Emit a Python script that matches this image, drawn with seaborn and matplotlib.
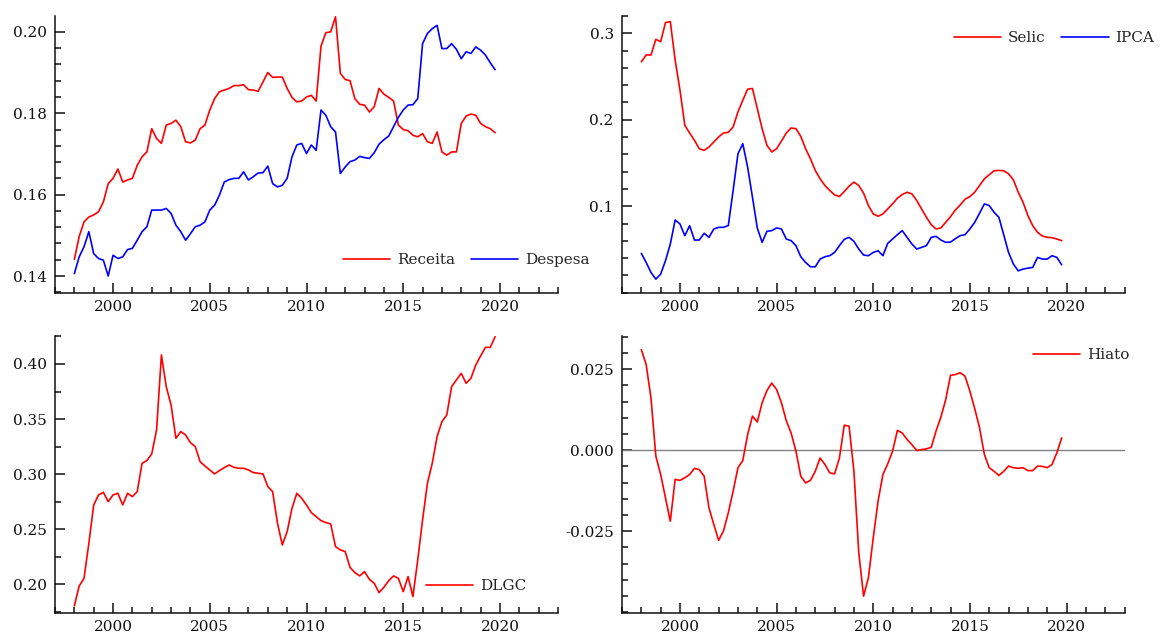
import numpy as np
import pandas as pd
import matplotlib
matplotlib.use("Agg")
import matplotlib.pyplot as plt
import seaborn as sns
from matplotlib.ticker import MultipleLocator, FixedLocator, FormatStrFormatter

# Quarterly series, 1998Q1 - 2019Q4
anos = 1998 + np.arange(88) / 4

receita = [
    0.1441, 0.1497, 0.1533, 0.1545, 0.1550, 0.1558, 0.1582, 0.1627,
    0.1640, 0.1663, 0.1631, 0.1636, 0.1640, 0.1672, 0.1693, 0.1705,
    0.1762, 0.1738, 0.1726, 0.1771, 0.1775, 0.1783, 0.1767, 0.1730,
    0.1727, 0.1734, 0.1762, 0.1771, 0.1808, 0.1836, 0.1853, 0.1857,
    0.1861, 0.1868, 0.1868, 0.1870, 0.1858, 0.1857, 0.1854, 0.1877,
    0.1900, 0.1888, 0.1889, 0.1889, 0.1861, 0.1839, 0.1828, 0.1830,
    0.1840, 0.1844, 0.1830, 0.1965, 0.1998, 0.2000, 0.2037, 0.1898,
    0.1883, 0.1880, 0.1836, 0.1822, 0.1820, 0.1803, 0.1816, 0.1861,
    0.1847, 0.1839, 0.1830, 0.1771, 0.1760, 0.1757, 0.1746, 0.1742,
    0.1750, 0.1730, 0.1726, 0.1754, 0.1705, 0.1697, 0.1705, 0.1705,
    0.1775, 0.1793, 0.1798, 0.1795, 0.1775, 0.1767, 0.1762, 0.1752,
]
despesa = [
    0.1406, 0.1447, 0.1472, 0.1509, 0.1455, 0.1443, 0.1439, 0.1400,
    0.1451, 0.1443, 0.1447, 0.1465, 0.1468, 0.1488, 0.1509, 0.1521,
    0.1562, 0.1562, 0.1562, 0.1566, 0.1554, 0.1525, 0.1509, 0.1488,
    0.1504, 0.1521, 0.1525, 0.1533, 0.1562, 0.1574, 0.1599, 0.1631,
    0.1637, 0.1640, 0.1640, 0.1656, 0.1636, 0.1644, 0.1653, 0.1654,
    0.1670, 0.1627, 0.1619, 0.1623, 0.1640, 0.1693, 0.1722, 0.1726,
    0.1701, 0.1722, 0.1709, 0.1808, 0.1795, 0.1767, 0.1754, 0.1652,
    0.1668, 0.1681, 0.1685, 0.1694, 0.1691, 0.1689, 0.1703, 0.1724,
    0.1735, 0.1744, 0.1767, 0.1790, 0.1808, 0.1820, 0.1821, 0.1836,
    0.1971, 0.1996, 0.2008, 0.2016, 0.1959, 0.1959, 0.1971, 0.1957,
    0.1934, 0.1951, 0.1947, 0.1963, 0.1955, 0.1943, 0.1924, 0.1907,
]
selic = [
    0.2670, 0.2749, 0.2749, 0.2930, 0.2903, 0.3124, 0.3135, 0.2690,
    0.2342, 0.1936, 0.1847, 0.1762, 0.1665, 0.1646, 0.1685, 0.1743,
    0.1801, 0.1847, 0.1855, 0.1917, 0.2091, 0.2226, 0.2354, 0.2362,
    0.2130, 0.1897, 0.1704, 0.1627, 0.1665, 0.1754, 0.1847, 0.1905,
    0.1897, 0.1808, 0.1665, 0.1549, 0.1414, 0.1317, 0.1240, 0.1182,
    0.1132, 0.1112, 0.1170, 0.1232, 0.1279, 0.1240, 0.1151, 0.1008,
    0.0911, 0.0884, 0.0911, 0.0969, 0.1027, 0.1093, 0.1135, 0.1162,
    0.1143, 0.1066, 0.0969, 0.0872, 0.0787, 0.0737, 0.0749, 0.0814,
    0.0880, 0.0957, 0.1015, 0.1081, 0.1112, 0.1162, 0.1240, 0.1317,
    0.1364, 0.1410, 0.1414, 0.1410, 0.1375, 0.1306, 0.1162, 0.1046,
    0.0892, 0.0776, 0.0698, 0.0656, 0.0640, 0.0636, 0.0621, 0.0602,
]
ipca = [
    0.0455, 0.0350, 0.0234, 0.0157, 0.0215, 0.0370, 0.0563, 0.0841,
    0.0795, 0.0659, 0.0776, 0.0609, 0.0609, 0.0687, 0.0640, 0.0737,
    0.0756, 0.0756, 0.0776, 0.1182, 0.1607, 0.1723, 0.1453, 0.1104,
    0.0749, 0.0582, 0.0710, 0.0718, 0.0749, 0.0737, 0.0621, 0.0602,
    0.0544, 0.0416, 0.0350, 0.0300, 0.0300, 0.0389, 0.0416, 0.0428,
    0.0466, 0.0544, 0.0617, 0.0640, 0.0594, 0.0505, 0.0435, 0.0428,
    0.0466, 0.0485, 0.0428, 0.0571, 0.0621, 0.0671, 0.0718, 0.0640,
    0.0563, 0.0505, 0.0524, 0.0544, 0.0640, 0.0652, 0.0609, 0.0582,
    0.0586, 0.0625, 0.0660, 0.0671, 0.0737, 0.0814, 0.0919, 0.1027,
    0.1008, 0.0930, 0.0872, 0.0671, 0.0466, 0.0331, 0.0253, 0.0273,
    0.0284, 0.0292, 0.0408, 0.0389, 0.0389, 0.0428, 0.0408, 0.0323,
]
dlgc = [
    0.1803, 0.1985, 0.2054, 0.2372, 0.2720, 0.2811, 0.2835, 0.2750,
    0.2811, 0.2826, 0.2720, 0.2826, 0.2796, 0.2841, 0.3098, 0.3123,
    0.3183, 0.3401, 0.4082, 0.3794, 0.3628, 0.3325, 0.3386, 0.3356,
    0.3286, 0.3250, 0.3113, 0.3074, 0.3038, 0.3002, 0.3032, 0.3059,
    0.3083, 0.3062, 0.3053, 0.3053, 0.3038, 0.3014, 0.3008, 0.3002,
    0.2887, 0.2841, 0.2554, 0.2357, 0.2478, 0.2690, 0.2826, 0.2781,
    0.2720, 0.2651, 0.2614, 0.2578, 0.2560, 0.2548, 0.2342, 0.2312,
    0.2297, 0.2154, 0.2106, 0.2076, 0.2115, 0.2045, 0.2009, 0.1924,
    0.1973, 0.2033, 0.2076, 0.2054, 0.1933, 0.2070, 0.1888, 0.2221,
    0.2584, 0.2917, 0.3098, 0.3341, 0.3477, 0.3537, 0.3794, 0.3855,
    0.3915, 0.3825, 0.3870, 0.3991, 0.4073, 0.4151, 0.4151, 0.4248,
]
hiato = [
    0.0310, 0.0264, 0.0161, -0.0018, -0.0075, -0.0147, -0.0219, -0.0090,
    -0.0093, -0.0085, -0.0075, -0.0056, -0.0060, -0.0080, -0.0178, -0.0229,
    -0.0278, -0.0249, -0.0193, -0.0126, -0.0054, -0.0032, 0.0048, 0.0105,
    0.0087, 0.0146, 0.0184, 0.0207, 0.0187, 0.0146, 0.0091, 0.0053,
    -0.0003, -0.0080, -0.0101, -0.0093, -0.0065, -0.0024, -0.0044, -0.0070,
    -0.0073, -0.0024, 0.0077, 0.0074, -0.0065, -0.0316, -0.0450, -0.0393,
    -0.0270, -0.0157, -0.0075, -0.0042, -0.0003, 0.0061, 0.0053, 0.0033,
    0.0017, -0.0001, 0.0002, 0.0004, 0.0009, 0.0059, 0.0102, 0.0156,
    0.0231, 0.0233, 0.0239, 0.0228, 0.0182, 0.0128, 0.0069, -0.0013,
    -0.0054, -0.0065, -0.0078, -0.0065, -0.0049, -0.0054, -0.0056, -0.0054,
    -0.0063, -0.0063, -0.0049, -0.0050, -0.0054, -0.0044, -0.0008, 0.0038,
]

df = pd.DataFrame({
    "ano": anos, "Receita": receita, "Despesa": despesa, "Selic": selic,
    "IPCA": ipca, "DLGC": dlgc, "Hiato": hiato,
})

sns.set_style("ticks")
plt.rcParams.update({
    "font.family": ["DejaVu Serif"],
    "font.size": 11,
    "axes.linewidth": 1.1,
    "axes.edgecolor": "#111111",
})

W, H = 1165, 635
fig = plt.figure(figsize=(W / 100, H / 100), dpi=100)


def frame(left, top, right, bottom):
    return [left / W, 1 - bottom / H, (right - left) / W, (bottom - top) / H]


ax1 = fig.add_axes(frame(55, 16, 558, 292.7))
ax2 = fig.add_axes(frame(622, 16, 1124.5, 292.7))
ax3 = fig.add_axes(frame(55, 336, 558, 612.7))
ax4 = fig.add_axes(frame(622, 336, 1124.5, 612.7))

RED, BLUE = "#ff0000", "#0000ff"
LW = 1.2


def serie(ax, col, color):
    sns.lineplot(data=df, x="ano", y=col, ax=ax, color=color, lw=LW,
                 label=col, estimator=None, sort=False)


serie(ax1, "Receita", RED)
serie(ax1, "Despesa", BLUE)
serie(ax2, "Selic", RED)
serie(ax2, "IPCA", BLUE)
serie(ax3, "DLGC", RED)
ax4.axhline(0, color="#808080", lw=1.0, zorder=1)
serie(ax4, "Hiato", RED)

ylims = {
    ax1: (0.1359, 0.2039),
    ax2: (0.0, 0.320),
    ax3: (0.1742, 0.4254),
    ax4: (-0.0501, 0.0352),
}
majors = {
    ax1: ([0.14, 0.16, 0.18, 0.20], 0.004, "%.2f"),
    ax2: ([0.1, 0.2, 0.3], 0.02, "%.1f"),
    ax3: ([0.20, 0.25, 0.30, 0.35, 0.40], 0.025, "%.2f"),
    ax4: ([-0.025, 0.0, 0.025], 0.005, "%.3f"),
}

for ax in (ax1, ax2, ax3, ax4):
    sns.despine(ax=ax)
    ax.set_xlim(1997, 2023)
    ax.set_ylim(*ylims[ax])
    ax.xaxis.set_major_locator(FixedLocator([2000, 2005, 2010, 2015, 2020]))
    ax.xaxis.set_minor_locator(MultipleLocator(1))
    ticks, minor, fmt = majors[ax]
    ax.yaxis.set_major_locator(FixedLocator(ticks))
    ax.yaxis.set_minor_locator(MultipleLocator(minor))
    ax.yaxis.set_major_formatter(FormatStrFormatter(fmt))
    ax.set_xlabel("")
    ax.set_ylabel("")
    ax.tick_params(which="both", direction="in", width=1.1,
                   color="#111111", labelcolor="#111111", labelsize=11)
    ax.tick_params(which="major", length=7)
    ax.tick_params(which="minor", length=4)
    ax.tick_params(axis="x", which="major", pad=5)
    ax.tick_params(axis="y", which="major", pad=6)

leg_kw = dict(frameon=False, handlelength=3.1, handletextpad=0.45,
              columnspacing=1.0, borderpad=0, borderaxespad=0, fontsize=11)
ax1.legend(loc="center left", bbox_to_anchor=(0.5726, 0.118), ncol=2, **leg_kw)
ax2.legend(loc="center left", bbox_to_anchor=(0.6607, 0.919), ncol=2, **leg_kw)
ax3.legend(loc="center left", bbox_to_anchor=(0.737, 0.0965), **leg_kw)
ax4.legend(loc="center left", bbox_to_anchor=(0.818, 0.931), **leg_kw)

fig.savefig("out.png", dpi=100)
